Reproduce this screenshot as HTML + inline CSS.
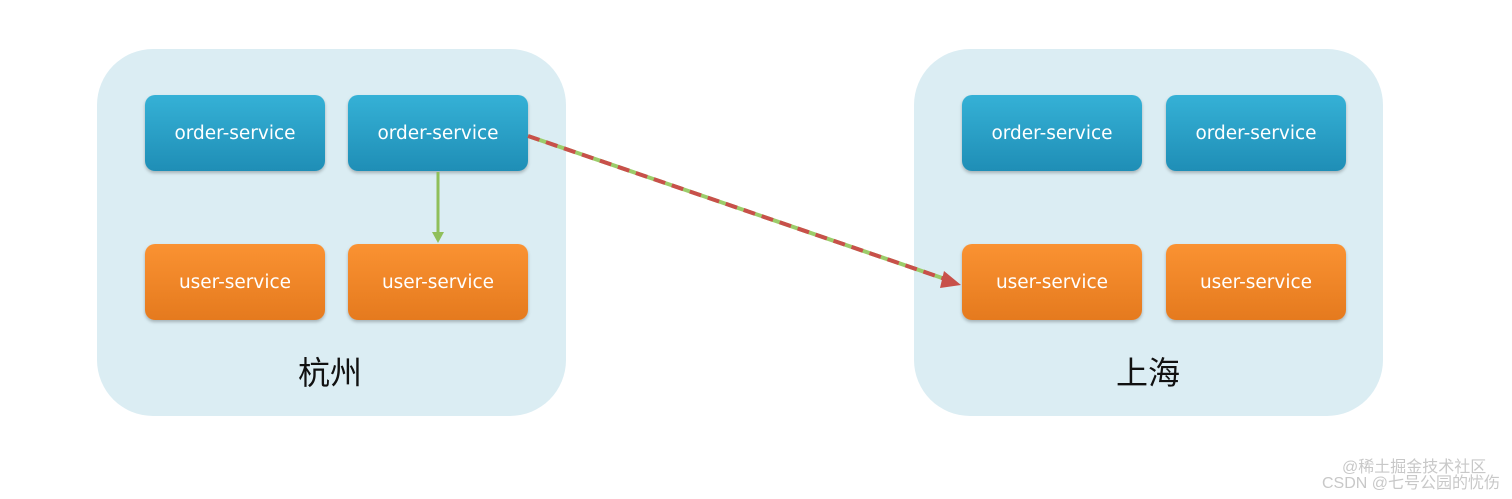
<!DOCTYPE html>
<html><head><meta charset="utf-8"><style>
body{margin:0;width:1512px;height:499px;background:#fff;position:relative;overflow:hidden;font-family:"Liberation Sans","Noto Sans CJK SC",sans-serif}
.c{position:absolute;top:49px;width:469px;height:367px;background:#dbedf3;border-radius:56px}
.b{position:absolute;width:180px;height:76px;border-radius:10px;color:#fff;font-size:18.5px;font-family:"DejaVu Sans",sans-serif;display:flex;align-items:center;justify-content:center;box-shadow:0 2px 3px rgba(0,0,0,.25)}
.o{background:linear-gradient(#35b1d6,#1f8eb6)}
.u{background:linear-gradient(#fa9232,#e57a1e)}
.t{position:absolute;top:348px;font-size:32px;color:#111;font-family:"Noto Sans CJK SC",sans-serif}
.w{position:absolute;color:#c8c8c8;font-size:16px;font-family:"Liberation Sans","Noto Sans CJK SC",sans-serif;line-height:16px}
</style></head><body>
<div class="c" style="left:97px"></div>
<div class="c" style="left:914px"></div>
<div class="b o" style="left:145px;top:95px">order-service</div>
<div class="b o" style="left:348px;top:95px">order-service</div>
<div class="b u" style="left:145px;top:244px">user-service</div>
<div class="b u" style="left:348px;top:244px">user-service</div>
<div class="b o" style="left:962px;top:95px">order-service</div>
<div class="b o" style="left:1166px;top:95px">order-service</div>
<div class="b u" style="left:962px;top:244px">user-service</div>
<div class="b u" style="left:1166px;top:244px">user-service</div>
<div class="t" style="left:298px">杭州</div>
<div class="t" style="left:1116px">上海</div>
<svg style="position:absolute;left:0;top:0" width="1512" height="499">
<line x1="438" y1="172" x2="438" y2="234" stroke="#8fbf5a" stroke-width="3"/>
<polygon points="432,232 444,232 438,243" fill="#8fbf5a"/>
<line x1="528" y1="136" x2="948" y2="280" stroke="#9ccc6a" stroke-width="4"/>
<line x1="528" y1="136" x2="948" y2="280" stroke="#c8504a" stroke-width="4" stroke-dasharray="12 7"/>
<polygon points="944,271 961,285 940,288" fill="#c8504a"/>
</svg>
<div class="w" style="left:1342px;top:460px">@稀土掘金技术社区</div>
<div class="w" style="left:1322px;top:476px">CSDN @七号公园的忧伤</div>
</body></html>
